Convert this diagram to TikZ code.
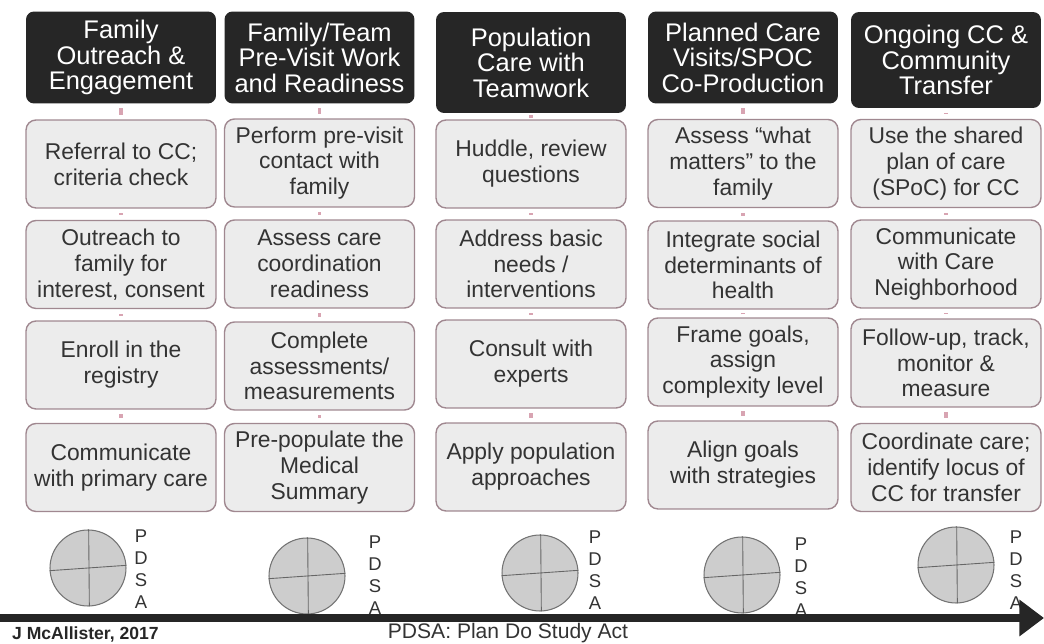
\documentclass[tikz,border=0pt]{standalone}
\usepackage{fontspec}
\setmainfont{Liberation Sans}
\usetikzlibrary{arrows.meta}
\definecolor{headfill}{HTML}{262626}
\definecolor{boxfill}{HTML}{ECECEC}
\definecolor{boxline}{HTML}{A08890}
\definecolor{linkpink}{HTML}{D8A4B2}
\definecolor{txt}{HTML}{333333}
\definecolor{wheelfill}{HTML}{CDCDCD}
\tikzset{
    head/.style={fill=headfill, rounded corners=0.16cm, text=white, align=center,
        minimum width=3.8cm, minimum height=1.84cm, inner sep=1pt,
        font=\fontsize{14.5}{14.5}\selectfont},
    task/.style={fill=boxfill, draw=boxline, line width=0.8pt, rounded corners=0.2cm,
        text=txt, align=center, minimum width=3.8cm, minimum height=1.76cm, inner sep=1pt,
        font=\fontsize{13}{14.7}\selectfont},
    link/.style={draw=linkpink, line width=1.8pt, shorten >=2.6pt, shorten <=2.6pt},
    wheel/.style={circle, fill=wheelfill, draw=black!55, line width=0.6pt,
        minimum size=1.52cm, inner sep=0pt},
    spoke/.style={draw=black!60, line width=0.5pt},
    pdsa/.style={align=center, text=txt, inner sep=0pt, font=\fontsize{10.5}{12.5}\selectfont}
}
\begin{document}
\begin{tikzpicture}[x=0.02cm, y=-0.02cm]
    \useasboundingbox (0,0) rectangle (1044,644);
    % headers
    \node[head] (h1) at (121,57.5) {Family\\Outreach \&\\Engagement};
    \node[head] (h2) at (319.5,57.5) {Family/Team\\Pre-Visit Work\\and Readiness};
    \node[head, minimum height=2.02cm] (h3) at (531,62.5) {Population\\Care with\\Teamwork};
    \node[head] (h4) at (743,57.5) {Planned Care\\Visits/SPOC\\Co-Production};
    \node[head, minimum height=1.92cm] (h5) at (946,60) {Ongoing CC \&\\Community\\Transfer};
    % steps
    \node[task] (a1) at (121,164) {Referral to CC;\\criteria check};
    \node[task] (a2) at (121,264.5) {Outreach to\\family for\\interest, consent};
    \node[task] (a3) at (121,365) {Enroll in the\\registry};
    \node[task] (a4) at (121,467.5) {Communicate\\with primary care};
    \node[task] (b1) at (319.5,163) {Perform pre-visit\\contact with\\family};
    \node[task] (b2) at (319.5,264) {Assess care\\coordination\\readiness};
    \node[task] (b3) at (319.5,366) {Complete\\assessments/\\measurements};
    \node[task] (b4) at (319.5,467.5) {Pre-populate the\\Medical\\Summary};
    \node[task] (c1) at (531,164) {Huddle, review\\questions};
    \node[task] (c2) at (531,264) {Address basic\\needs /\\interventions};
    \node[task] (c3) at (531,364) {Consult with\\experts};
    \node[task] (c4) at (531,467) {Apply population\\approaches};
    \node[task] (d1) at (743,163.5) {Assess “what\\matters” to the\\family};
    \node[task] (d2) at (743,265) {Integrate social\\determinants of\\health};
    \node[task] (d3) at (743,362) {Frame goals,\\assign\\complexity level};
    \node[task] (d4) at (743,465) {Align goals\\with strategies};
    \node[task] (e1) at (946,163.5) {Use the shared\\plan of care\\(SPoC) for CC};
    \node[task] (e2) at (946,264) {Communicate\\with Care\\Neighborhood};
    \node[task] (e3) at (946,363) {Follow-up, track,\\monitor \&\\measure};
    \node[task] (e4) at (946,467.5) {Coordinate care;\\identify locus of\\CC for transfer};
    \foreach \c/\h in {a/h1,b/h2,c/h3,d/h4,e/h5} {
        \draw[link] (\h) -- (\c1);
        \draw[link] (\c1) -- (\c2);
        \draw[link] (\c2) -- (\c3);
        \draw[link] (\c3) -- (\c4);
    }
    % PDSA cycles
    \node[wheel] (w1) at (88,568) {};
    \node[wheel] (w2) at (307,576) {};
    \node[wheel] (w3) at (540,573) {};
    \node[wheel] (w4) at (742,575) {};
    \node[wheel] (w5) at (956,565) {};
    \foreach \w in {w1,w2,w3,w4,w5}
        \draw[spoke] (\w.184) -- (\w.4) (\w.89) -- (\w.272);
    \node[pdsa] (p1) at (141,569) {P\\D\\S\\A};
    \node[pdsa] (p2) at (375,575) {P\\D\\S\\A};
    \node[pdsa] (p3) at (595,570) {P\\D\\S\\A};
    \node[pdsa] (p4) at (801,577) {P\\D\\S\\A};
    \node[pdsa] (p5) at (1016,570) {P\\D\\S\\A};
    % time line
    \coordinate (t0) at (0,618);
    \coordinate (t1) at (1044,618);
    \draw[line width=4pt, black!85, -{Triangle[length=14pt,width=20pt]}] (t0) -- (t1);
    \node[anchor=west, text=black!85, font=\bfseries\fontsize{10}{12}\selectfont] (author) at (6,634) {J McAllister, 2017};
    \node[text=txt, font=\fontsize{12}{14}\selectfont] (key) at (508,633) {PDSA: Plan Do Study Act};
\end{tikzpicture}
\end{document}
